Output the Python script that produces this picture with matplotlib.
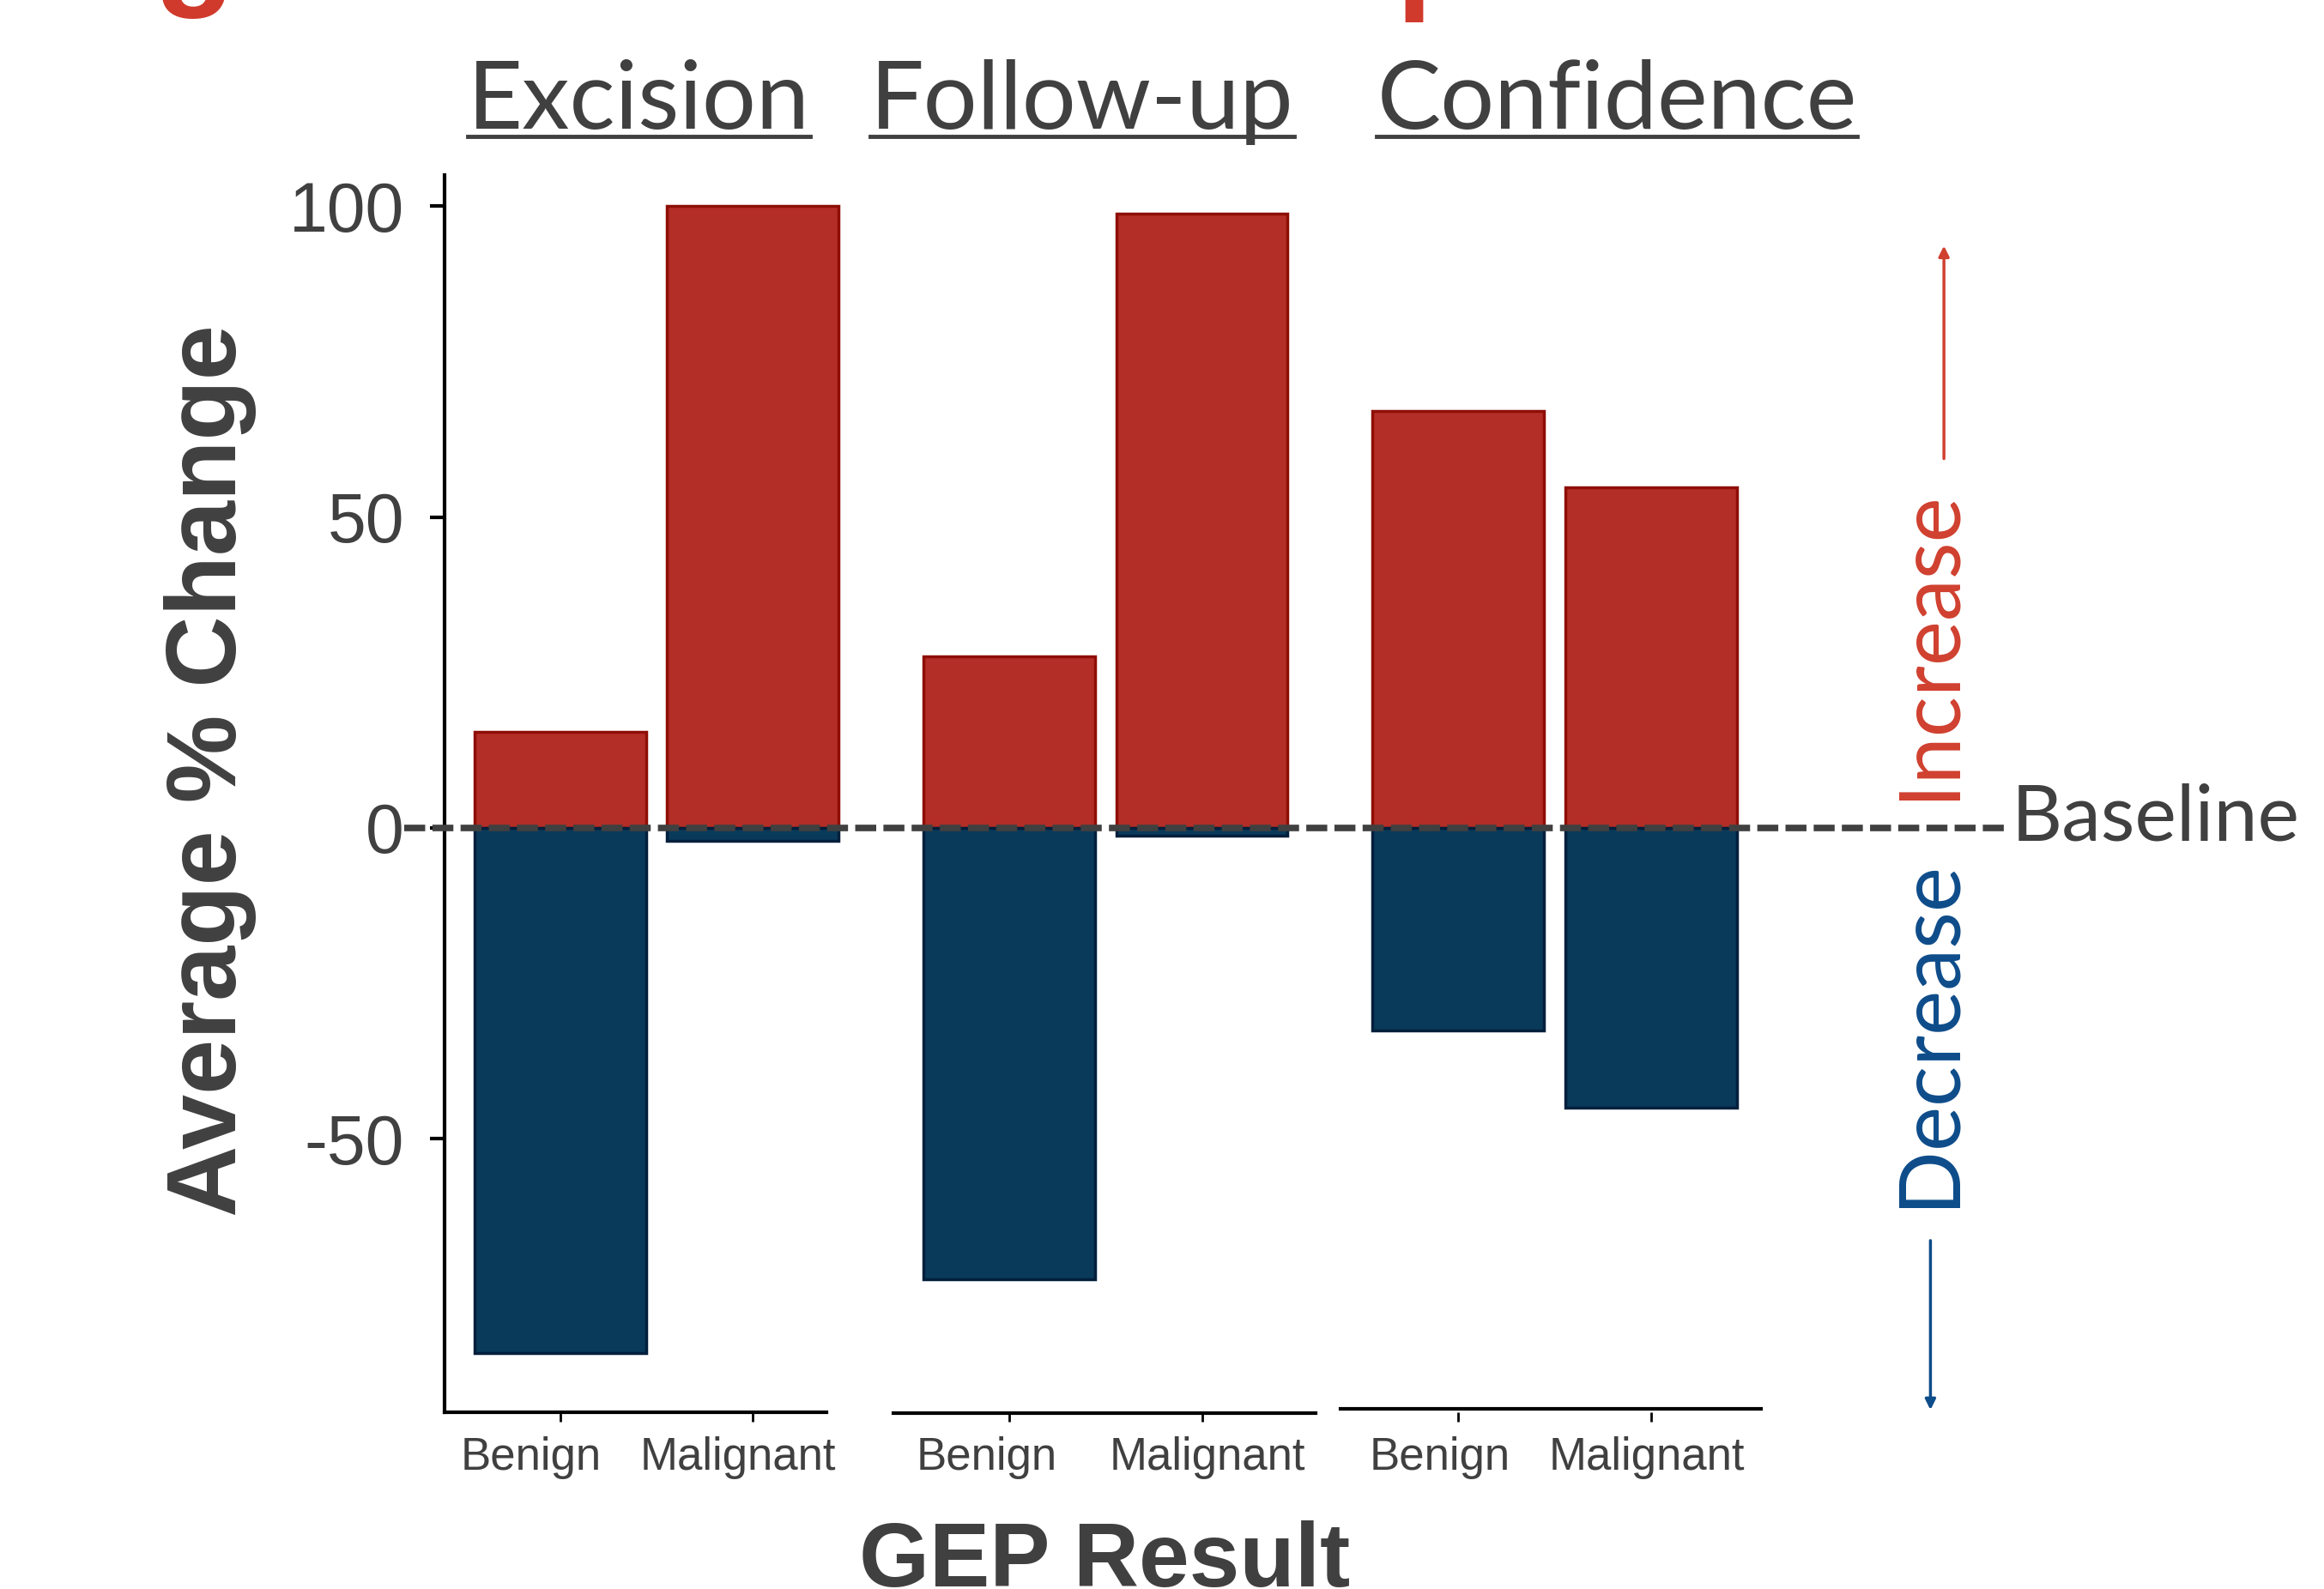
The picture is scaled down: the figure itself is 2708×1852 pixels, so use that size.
import matplotlib
matplotlib.use("Agg")
import matplotlib.pyplot as plt
import matplotlib.transforms as mtransforms
from matplotlib.lines import Line2D

# data
groups = ["Excision", "Follow-up", "Confidence"]
results = ["Benign", "Malignant"]
increase = [15.5, 100.0, 27.6, 98.8, 67.1, 54.8]
decrease = [-84.5, -2.1, -72.6, -1.2, -32.6, -45.0]
yticks = [100, 50, 0, -50]

# bar positions: two bars per group, wider gap between groups
group_step = 2.33
xpos = [g * group_step + r for g in range(len(groups)) for r in range(len(results))]
xlabels = results * len(groups)

red = "#B32E26"
red_edge = "#8E0E06"
blue = "#0A3A5A"
blue_edge = "#021F3C"
gray = "#404040"
arrow_red = "#D0402F"
arrow_blue = "#0E4C8A"

light = ["Lato", "DejaVu Sans"]
arial = ["Liberation Sans", "DejaVu Sans"]

W, H = 2708, 1852
fig = plt.figure(figsize=(W / 100, H / 100), dpi=100)
ax = fig.add_axes([518 / W, 1 - 1646 / H, (2337 - 518) / W, (1646 - 204) / H])
ax.set_xlim(-0.6, 7.5)
ax.set_ylim(-94, 105)

ax.bar(xpos, increase, width=0.89, color=red, edgecolor=red_edge, linewidth=2.5, zorder=2)
ax.bar(xpos, decrease, width=0.89, color=blue, edgecolor=blue_edge, linewidth=2.5, zorder=2)

# baseline
ax.plot([-0.81, 7.49], [0, 0], color=gray, linewidth=5.5, linestyle=(0, (3.2, 1.1)),
        clip_on=False, zorder=3)
ax.text(7.53, -2, "Baseline", fontsize=66, color=gray, family=light,
        ha="left", va="baseline")

# spines
for s in ["top", "right", "bottom"]:
    ax.spines[s].set_visible(False)
ax.spines["left"].set_linewidth(3)
ax.spines["left"].set_color("black")

# broken bottom axis, one piece per group
segs = [(-0.6, 1.38, -94), (1.73, 3.92, -94.2), (4.05, 6.23, -93.5)]
for x0, x1, yy in segs:
    ax.plot([x0, x1], [yy, yy], color="black", linewidth=3, clip_on=False, zorder=4)

ax.set_yticks(yticks)
ax.set_yticklabels([str(v) for v in yticks])
ax.tick_params(axis="y", length=12, width=3, pad=22, labelsize=58, labelcolor=gray)
ax.set_xticks(xpos)
ax.set_xticklabels(xlabels)
ax.tick_params(axis="x", length=8, width=2, pad=12, labelsize=38, labelcolor=gray)
for lab in ax.get_xticklabels() + ax.get_yticklabels():
    lab.set_family(arial)

# the tick labels sit a little off their ticks in the original
label_shift = [-34, -17, -26, 6, -22, -5]
for lab, dx in zip(ax.get_xticklabels(), label_shift):
    lab.set_transform(lab.get_transform() +
                      mtransforms.ScaledTranslation(dx / 100, 0, fig.dpi_scale_trans))

# axis titles
fig.text(245 / W, 1 - 898 / H, "Average % Change", rotation=90, fontsize=83,
         fontweight="bold", color=gray, family=arial, ha="center", va="center")
fig.text(1287 / W, 3 / H, "GEP Result", fontsize=76, fontweight="bold",
         color=gray, family=arial, ha="center", va="baseline")

# group headers, underlined
header_x = [431, 730, 1091]
headers = []
for name, hx in zip(groups, header_x):
    t = fig.text(hx * 1.727 / W, 1 - 150 / H, name, fontsize=80, color=gray,
                 family=light, ha="center", va="baseline")
    headers.append(t)

# increase / decrease annotations
ax.annotate("", xy=(7.18, 94), xytext=(7.18, 59),
            arrowprops=dict(arrowstyle="-|>", color=arrow_red, lw=2.5,
                            mutation_scale=18), annotation_clip=False)
ax.annotate("", xy=(7.11, -94), xytext=(7.11, -66),
            arrowprops=dict(arrowstyle="-|>", color=arrow_blue, lw=2.5,
                            mutation_scale=18), annotation_clip=False)
ax.text(7.1, 4.5, "Increase", rotation=90, fontsize=71, color=arrow_red,
        family=light, ha="center", va="bottom")
ax.text(7.1, -5.0, "Decrease", rotation=90, fontsize=71, color=arrow_blue,
        family=light, ha="center", va="top")

# bits of the slide title cut off by the top edge
fig.text(226 / W, 1 + 10 / H, "g", fontsize=110, fontweight="bold",
         color="#D03A2C", family=arial, ha="center", va="baseline")
fig.text(1627 / W, 1 + 6 / H, "p", fontsize=110, fontweight="bold",
         color="#D03A2C", family=arial, ha="left", va="baseline")

fig.canvas.draw()
r = fig.canvas.get_renderer()
for t in headers:
    bb = t.get_window_extent(renderer=r)
    y = 1 - 159 / H
    fig.add_artist(Line2D([bb.x0 / W, bb.x1 / W], [y, y], color=gray, linewidth=3.5))

fig.savefig("out.png", dpi=100)
